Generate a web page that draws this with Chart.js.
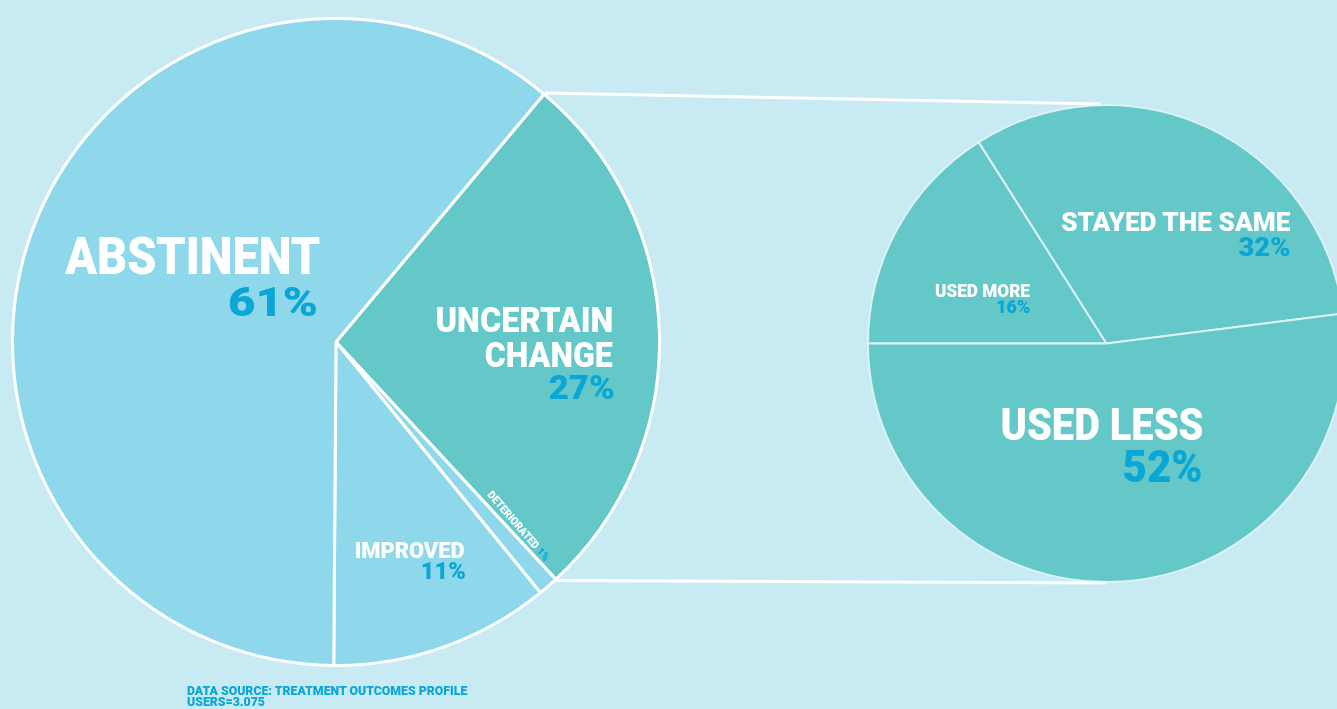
<!DOCTYPE html>
<html>
<head>
<meta charset="utf-8">
<script src="https://cdn.jsdelivr.net/npm/chart.js@4.4.1/dist/chart.umd.min.js"></script>
<style>
  html, body { margin: 0; padding: 0; width: 1337px; height: 709px; overflow: hidden; background: #c8eaf3; }
  .box { position: absolute; }
  .lbl { position: absolute; font-family: Roboto, "DejaVu Sans", sans-serif; font-weight: 900; line-height: 1; white-space: nowrap; transform-origin: right top; }
  #overlay { position: absolute; left: 0; top: 0; pointer-events: none; }
</style>
</head>
<body>
<div class="box" id="leftBox" style="left:11px;top:17px;width:650px;height:650px;"><canvas id="leftPie"></canvas></div>
<div class="box" id="rightBox" style="left:867px;top:104px;width:479px;height:479px;"><canvas id="rightPie"></canvas></div>
<canvas id="overlay" width="1337" height="709"></canvas>
<div id="labels"></div>
<script>
// ---- data ----
const outcomeCategories = ["UNCERTAIN CHANGE", "DETERIORATED", "IMPROVED", "ABSTINENT"];
const outcomeValues = [27, 1, 11, 61];
const changeCategories = ["USED MORE", "STAYED THE SAME", "USED LESS"];
const changeValues = [16, 32, 52];
const sourceLines = ["DATA SOURCE: TREATMENT OUTCOMES PROFILE", "USERS=3.075"];

const LIGHT = "#8fd8ec", TEAL = "#64c8c9", BLUE = "#0aa6d6";

const leftChart = new Chart(document.getElementById("leftPie"), {
  type: "pie",
  data: { labels: outcomeCategories, datasets: [{
    data: outcomeValues,
    backgroundColor: [TEAL, LIGHT, LIGHT, LIGHT],
    borderColor: "#ffffff", borderWidth: 3
  }]},
  options: {
    responsive: true, maintainAspectRatio: false, animation: false,
    rotation: 40,
    layout: { padding: 0 },
    plugins: { legend: { display: false }, tooltip: { enabled: false } }
  }
});

const rightChart = new Chart(document.getElementById("rightPie"), {
  type: "pie",
  data: { labels: changeCategories, datasets: [{
    data: changeValues,
    backgroundColor: [TEAL, TEAL, TEAL],
    borderColor: "#dbf2f6", borderWidth: 2
  }]},
  options: {
    responsive: true, maintainAspectRatio: false, animation: false,
    rotation: -90,
    layout: { padding: 0 },
    plugins: { legend: { display: false }, tooltip: { enabled: false } }
  }
});

// ---- connector lines from the uncertain slice to the zoomed pie ----
function drawConnectors() {
  const ov = document.getElementById("overlay").getContext("2d");
  ov.clearRect(0, 0, 1337, 709);
  const lb = document.getElementById("leftBox").getBoundingClientRect();
  const rb = document.getElementById("rightBox").getBoundingClientRect();
  const arc = leftChart.getDatasetMeta(0).data[0];
  const R = arc.outerRadius + 1.5;
  const p1 = [lb.left + arc.x + R * Math.cos(arc.startAngle), lb.top + arc.y + R * Math.sin(arc.startAngle)];
  const p2 = [lb.left + arc.x + R * Math.cos(arc.endAngle), lb.top + arc.y + R * Math.sin(arc.endAngle)];
  const rarc = rightChart.getDatasetMeta(0).data[0];
  const rR = rarc.outerRadius + 1;
  const q1 = [rb.left + rarc.x - 6, rb.top + rarc.y - rR];
  const q2 = [rb.left + rarc.x, rb.top + rarc.y + rR];
  ov.strokeStyle = "#ffffff";
  ov.lineWidth = 3;
  ov.beginPath();
  ov.moveTo(p1[0], p1[1]); ov.lineTo(q1[0], q1[1]);
  ov.moveTo(p2[0], p2[1]); ov.lineTo(q2[0], q2[1]);
  ov.stroke();
}
drawConnectors();

// ---- text labels ----
const holder = document.getElementById("labels");
const measurer = document.createElement("canvas").getContext("2d");
function label(text, right, capTop, size, color, width) {
  const d = document.createElement("div");
  d.className = "lbl";
  d.textContent = text;
  d.style.fontSize = size + "px";
  d.style.color = color;
  d.style.right = (1337 - right) + "px";
  d.style.top = (capTop - 0.13 * size) + "px";
  if (width) {
    measurer.font = "900 " + size + "px Roboto";
    const w = measurer.measureText(text).width;
    d.style.transform = "scaleX(" + (width / w) + ")";
  }
  holder.appendChild(d);
}
label(outcomeCategories[3], 320, 238, 52, "#fff", 255);
label(outcomeValues[3] + "%", 318, 287, 41, BLUE, 90);
label("UNCERTAIN", 613, 308, 35, "#fff", 178);
label("CHANGE", 613, 343, 35, "#fff", 128);
label(outcomeValues[0] + "%", 615, 375, 33, BLUE, 66);
label(outcomeCategories[2], 465, 543, 22, "#fff", 110);
label(outcomeValues[2] + "%", 466, 563, 23, BLUE, 45);
label(changeCategories[0], 1030, 283, 19, "#fff", 95);
label(changeValues[0] + "%", 1030, 300, 18, BLUE, 34);
label(changeCategories[1], 1290, 212, 26, "#fff", 230);
label(changeValues[1] + "%", 1290, 237, 26, BLUE, 52);
label(changeCategories[2], 1203, 408, 45, "#fff", 203);
label(changeValues[2] + "%", 1203, 450, 45, BLUE, 80);

// source note (left aligned)
measurer.font = "900 13px Roboto";
const srcScale = 281 / measurer.measureText(sourceLines[0]).width;
sourceLines.forEach((t, i) => {
  const d = document.createElement("div");
  d.className = "lbl";
  d.textContent = t;
  d.style.fontSize = "13px";
  d.style.color = BLUE;
  d.style.left = "187px";
  d.style.top = (686 + i * 11 - 0.13 * 13) + "px";
  d.style.transformOrigin = "left top";
  d.style.transform = "scaleX(" + srcScale + ")";
  holder.appendChild(d);
});

// rotated deteriorated label
const det = document.createElement("div");
det.className = "lbl";
det.style.fontSize = "11px";
det.style.color = "#fff";
det.style.left = "521px";
det.style.top = "529px";
det.style.transformOrigin = "0 0";
det.style.transform = "rotate(49deg) translate(-50%, -50%) scaleX(0.92)";
det.innerHTML = outcomeCategories[1] + ' <span style="color:' + BLUE + '">' + outcomeValues[1] + '%</span>';
holder.appendChild(det);
</script>
</body>
</html>
